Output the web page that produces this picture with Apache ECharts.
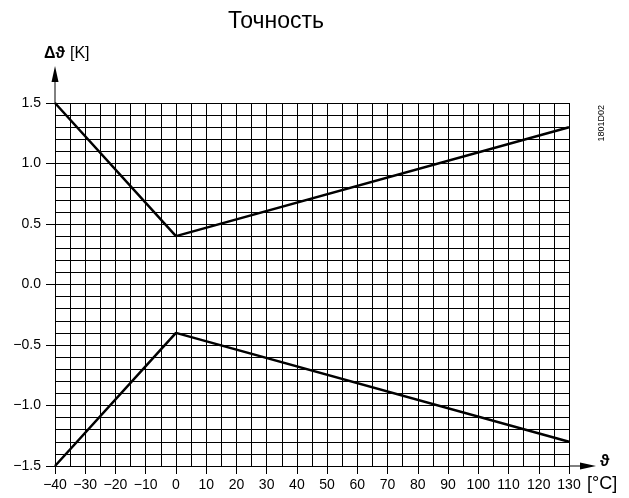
<!DOCTYPE html>
<html><head><meta charset="utf-8">
<script src="https://cdn.jsdelivr.net/npm/echarts@6/dist/echarts.min.js"></script>
<style>html,body{margin:0;padding:0;background:#fff}#c{width:629px;height:498px}</style>
</head><body><div id="c"></div>
<script>
const upperX = [-40, 0, 130];
const upperY = [1.5, 0.4, 1.3];
const lowerX = [-40, 0, 130];
const lowerY = [-1.5, -0.4, -1.3];
const xTicks = [-40,-30,-20,-10,0,10,20,30,40,50,60,70,80,90,100,110,120,130];
const yTicks = [-1.5,-1.0,-0.5,0.0,0.5,1.0,1.5];

const FONT = '"Liberation Sans", Arial, sans-serif';
const chart = echarts.init(document.getElementById('c'), null, {renderer:'canvas'});
const fmtNum = (v, d) => { const s = Math.abs(v).toFixed(d); return (v < -1e-9 ? '\u2212' : '') + s; };
const gridLine = {show:true, lineStyle:{color:'#000', width:1}};
chart.setOption({
  animation:false,
  backgroundColor:'#fff',
  title:{text:'Точность', left:271, top:5, textAlign:'center',
    textStyle:{fontFamily:FONT, fontSize:23, fontWeight:'normal', color:'#000'}},
  grid:{left:55, right:60, top:103, bottom:32, containLabel:false},
  xAxis:{type:'value', min:xTicks[0], max:xTicks[xTicks.length-1], interval:10,
    axisLine:{show:true, onZero:false, lineStyle:{color:'#000', width:1}},
    axisTick:{show:true, length:8, lineStyle:{color:'#000'}},
    minorTick:{show:false, splitNumber:2},
    splitLine:gridLine,
    minorSplitLine:gridLine,
    axisLabel:{margin:12, color:'#000', fontFamily:FONT, fontSize:14,
      formatter:v => xTicks.includes(v) ? fmtNum(v,0) : ''}},
  yAxis:{type:'value', min:yTicks[0], max:yTicks[yTicks.length-1], interval:0.5,
    axisLine:{show:true, onZero:false, lineStyle:{color:'#000', width:1}},
    axisTick:{show:true, length:9, lineStyle:{color:'#000'}},
    minorTick:{show:false, splitNumber:5},
    splitLine:gridLine,
    minorSplitLine:gridLine,
    axisLabel:{margin:14, color:'#000', fontFamily:FONT, fontSize:14,
      formatter:v => fmtNum(v,1)}},
  series:[
    {type:'line', data:upperX.map((x,i)=>[x, upperY[i]]), symbol:'none',
      lineStyle:{color:'#000', width:2.5}},
    {type:'line', data:lowerX.map((x,i)=>[x, lowerY[i]]), symbol:'none',
      lineStyle:{color:'#000', width:2.5}}
  ]
});
const t = chart.convertToPixel({gridIndex:0}, [xTicks[0], yTicks[yTicks.length-1]]);
const r = chart.convertToPixel({gridIndex:0}, [xTicks[xTicks.length-1], yTicks[0]]);
chart.setOption({graphic:[
  {type:'line', shape:{x1:t[0], y1:t[1], x2:t[0], y2:t[1]-24}, style:{stroke:'#000', lineWidth:1}},
  {type:'polygon', shape:{points:[[t[0], t[1]-37],[t[0]-3.5, t[1]-21],[t[0]+3.5, t[1]-21]]}, style:{fill:'#000'}},
  {type:'line', shape:{x1:r[0], y1:r[1], x2:r[0]+14, y2:r[1]}, style:{stroke:'#000', lineWidth:1}},
  {type:'polygon', shape:{points:[[r[0]+27, r[1]],[r[0]+11, r[1]-3.5],[r[0]+11, r[1]+3.5]]}, style:{fill:'#000'}},
  {type:'text', x:t[0]-11, y:t[1]-49, style:{text:'Δϑ', font:'bold 16px '+FONT, fill:'#000', textVerticalAlign:'middle'}},
  {type:'text', x:t[0]+15, y:t[1]-49, style:{text:'[K]', font:'16px '+FONT, fill:'#000', textVerticalAlign:'middle'}},
  {type:'text', x:r[0]+31, y:r[1]-4, style:{text:'ϑ', font:'bold 16px '+FONT, fill:'#000', textVerticalAlign:'middle'}},
  {type:'text', x:r[0]+18, y:r[1]+18, style:{text:'[°C]', font:'18px '+FONT, fill:'#000', textVerticalAlign:'middle'}},
  {type:'text', x:r[0]+33, y:t[1]+2, rotation:Math.PI/2, style:{text:'1801D02', font:'9px '+FONT, fill:'#000', textAlign:'right', textVerticalAlign:'middle'}}
]});
</script></body></html>
